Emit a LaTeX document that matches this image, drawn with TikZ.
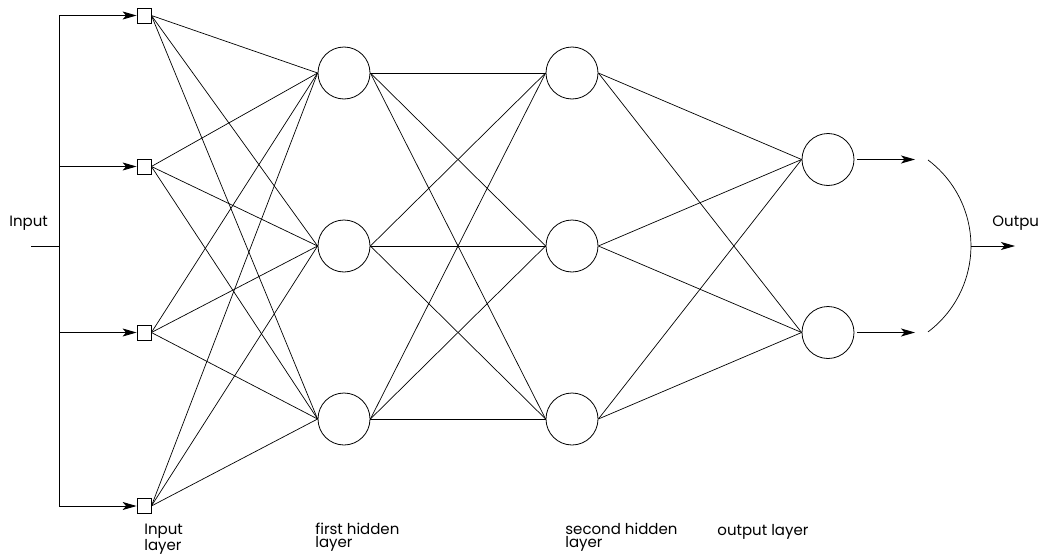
\documentclass[tikz,border=0pt]{standalone}
\usepackage{fontspec}
\setmainfont{Poppins}
\usetikzlibrary{arrows.meta}
\begin{document}
\begin{tikzpicture}[x=1pt,y=1pt,
  line width=0.8pt,
  sq/.style={draw, minimum width=14pt, minimum height=15pt, inner sep=0pt, fill=white},
  neuron/.style={draw, circle, minimum size=52pt, inner sep=0pt},
  wire/.style={line width=0.7pt},
  feed/.style={line width=0.9pt, -{Stealth[length=14pt,width=8pt,inset=3.5pt]}},
  lbl/.style={font=\fontsize{15}{13}\selectfont, align=left, inner sep=0pt, anchor=base west}
]
\useasboundingbox (0,0) rectangle (1047,-554);

% input squares
\node[sq] (i1) at (144,-15.5) {};
\node[sq] (i2) at (144,-166.5) {};
\node[sq] (i3) at (144,-332.5) {};
\node[sq] (i4) at (144,-506) {};

% first hidden layer
\node[neuron] (a1) at (344,-73) {};
\node[neuron] (a2) at (344,-246) {};
\node[neuron] (a3) at (344,-419) {};

% second hidden layer
\node[neuron] (b1) at (572,-73) {};
\node[neuron] (b2) at (572,-246) {};
\node[neuron] (b3) at (572,-419) {};

% output layer
\node[neuron] (o1) at (828,-159.5) {};
\node[neuron] (o2) at (828,-332.5) {};

% input distribution bus
\coordinate (inL) at (31,-246);
\coordinate (bus) at (59,-246);
\coordinate (busT) at (59,-15.5);
\coordinate (busB) at (59,-506);
\draw (inL) -- (bus);
\draw (busT) -- (busB);
\foreach \k in {1,...,4}{
  \draw[feed] (busT |- i\k.west) -- (i\k.west);
}

% full connections
\foreach \k in {1,...,4}{
  \foreach \m in {1,2,3}{
    \draw[wire] (i\k.east) -- (a\m.west);
  }
}
\foreach \k in {1,2,3}{
  \foreach \m in {1,2,3}{
    \draw[wire] (a\k.east) -- (b\m.west);
  }
}
\foreach \k in {1,2,3}{
  \foreach \m in {1,2}{
    \draw[wire] (b\k.east) -- (o\m.west);
  }
}

% output arrows and combining arc
\coordinate (e1) at (915,-159.5);
\coordinate (e2) at (915,-332.5);
\draw[feed, shorten <=3pt] (o1.east) -- (e1);
\draw[feed, shorten <=3pt] (o2.east) -- (e2);
\coordinate (arcT) at (928,-160);
\coordinate (arcM) at (971,-246);
\coordinate (outR) at (1015,-246);
\draw[wire] (arcT) arc[start angle=53.1, end angle=-53.1, radius=107.5];
\draw[feed] (arcM) -- (outR);

% labels
\node[lbl] (tin) at (9,-226) {Input};
\node[lbl] (tout) at (992,-226) {Outpu};
\node[lbl] (l1) at (144,-550) {Input\\layer};
\node[lbl] (l2) at (315,-547) {first hidden\\layer};
\node[lbl] (l3) at (565,-547) {second hidden\\layer};
\node[lbl] (l4) at (717,-535) {output layer};
\end{tikzpicture}
\end{document}
